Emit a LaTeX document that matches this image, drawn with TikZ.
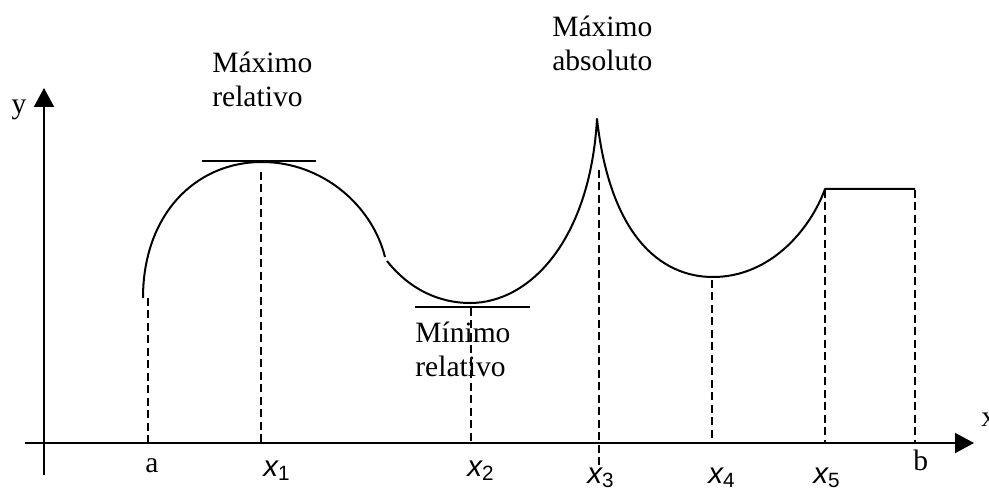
\documentclass[tikz,border=0pt]{standalone}
\usepackage{fontspec}
\setmainfont{Liberation Serif}
\newfontfamily\arialfont{Liberation Sans}
\usetikzlibrary{arrows.meta}
\tikzset{
  curva/.style={line width=0.04cm, line join=round},
  guia/.style={line width=0.035cm, dash pattern=on 0.16cm off 0.09cm},
  eje/.style={line width=0.04cm, -{Triangle[length=0.38cm,width=0.40cm]}},
  rotulo/.style={inner sep=0pt, font=\fontsize{16.8}{19.3}\selectfont},
  abscisa/.style={inner sep=0pt, anchor=base west,
                  font=\arialfont\fontsize{16.8}{19.3}\selectfont\itshape},
}

\begin{document}
\begin{tikzpicture}[x=0.02cm,y=-0.02cm]
    \useasboundingbox (0,0) rectangle (989,489);
    % ejes
    \draw[eje] (44,475) -- (44,88);
    \draw[eje] (25,443) -- (974,443);
    \node[rotulo,anchor=base] (ly) at (19,114) {y};
    \node[rotulo,anchor=base west] (lx) at (981,426) {x};
    % puntos de la curva
    \coordinate (pa) at (143,298);
    \coordinate (p1) at (262,162);
    \coordinate (pq) at (385,257);
    \coordinate (pr) at (387,261);
    \coordinate (p2) at (470,303);
    \coordinate (p3) at (597,119);
    \coordinate (p4) at (713,277);
    \coordinate (p5) at (825,189);
    \coordinate (pb) at (915,189);
    \draw[curva] (pa) .. controls (143,215) and (195,162) .. (p1)
                      .. controls (322,162) and (372,205) .. (pq);
    \draw[curva] (pr) .. controls (410,290) and (440,303) .. (p2)
                      .. controls (530,303) and (590,240) .. (p3)
                      .. controls (610,235) and (660,277) .. (p4)
                      .. controls (770,277) and (810,230) .. (p5) -- (pb);
    % tangentes
    \draw[curva] (202,161) -- (316,161);
    \draw[curva] (415,307) -- (530,307);
    % rectas verticales
    \foreach \px/\ya/\yb in {148/298/443, 261/172/443, 471/308/443, 599/170/466,
                             712/280/443, 825/190/443, 915/190/443}
        \draw[guia] (\px,\ya) -- (\px,\yb);
    % textos
    \node[rotulo,anchor=north west,align=left] (tmaxr) at (212,52) {Máximo\\relativo};
    \node[rotulo,anchor=north west,align=left] (tmaxa) at (552,16) {Máximo\\absoluto};
    \node[rotulo,anchor=north west,align=left] (tminr) at (415,322) {Mínimo\\relativo};
    % abscisas
    \node[rotulo,anchor=base west] (la) at (145,472) {a};
    \node[abscisa] (l1) at (263,476) {x\textsubscript{\upshape 1}};
    \node[abscisa] (l2) at (467,476) {x\textsubscript{\upshape 2}};
    \node[abscisa] (l3) at (587,483) {x\textsubscript{\upshape 3}};
    \node[abscisa] (l4) at (708,483) {x\textsubscript{\upshape 4}};
    \node[abscisa] (l5) at (813,483) {x\textsubscript{\upshape 5}};
    \node[rotulo,anchor=base west] (lb) at (913,470) {b};
\end{tikzpicture}
\end{document}
